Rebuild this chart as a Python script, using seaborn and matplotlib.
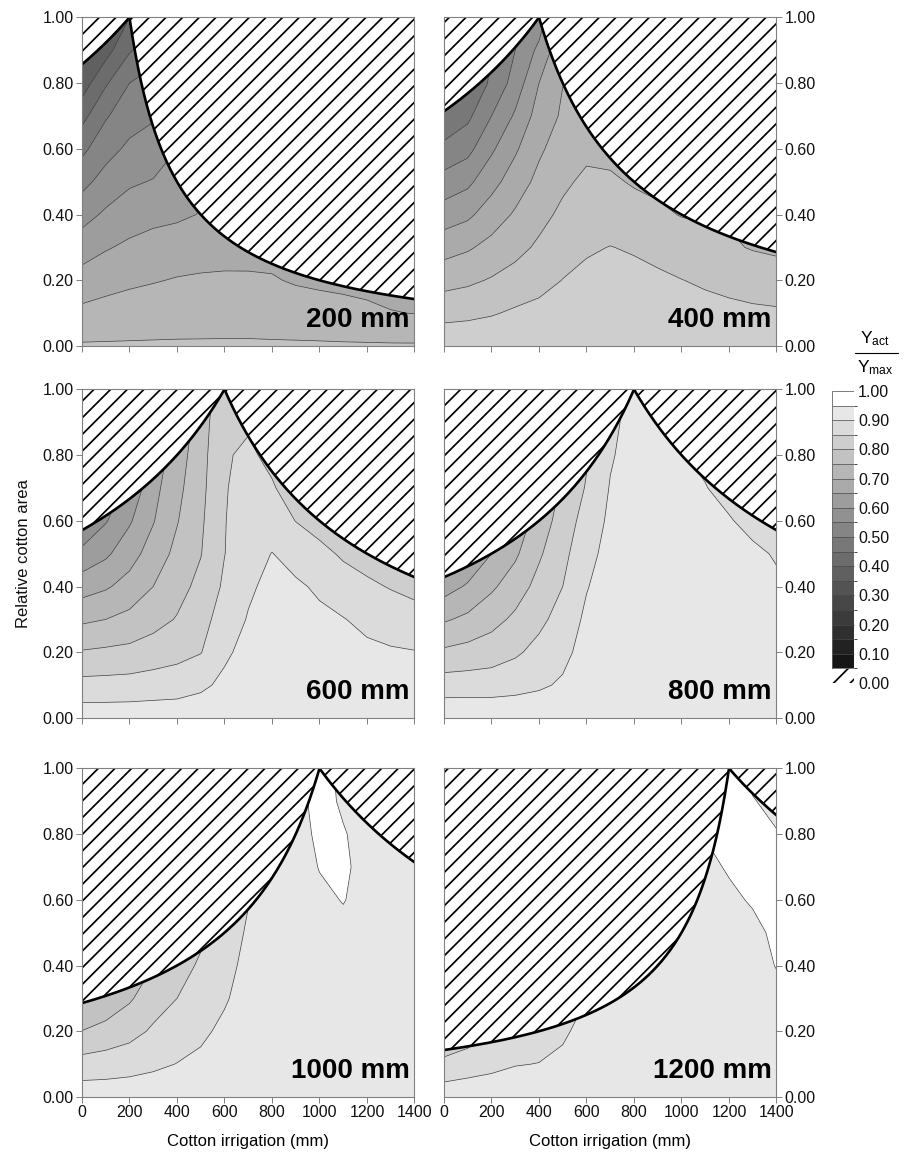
import numpy as np
import matplotlib
matplotlib.use("Agg")
import matplotlib.pyplot as plt
import seaborn as sns
from matplotlib import font_manager
from matplotlib.colors import ListedColormap, BoundaryNorm
from matplotlib.cm import ScalarMappable
from matplotlib.patches import Rectangle
from matplotlib.lines import Line2D

# grid of the contour maps
irrigation = [0, 100, 200, 300, 400, 500, 600, 700, 800, 900, 1000, 1100, 1200, 1300, 1400]
area = [0.0, 0.1, 0.2, 0.3, 0.4, 0.5, 0.6, 0.7, 0.8, 0.9, 1.0]
water = [200, 400, 600, 800, 1000, 1200]   # total water per panel (mm)
other_max = 1400                            # limit of the other crop (mm)

# relative yield, one row per area value
yield_200 = [
    [0.755] * 15,
    [0.712, 0.719, 0.724, 0.728, 0.731, 0.732, 0.733, 0.733, 0.730, 0.727, 0.723, 0.716, 0.710, 0.702, 0.699],
    [0.670, 0.682, 0.691, 0.697, 0.703, 0.706, 0.708, 0.707, 0.704, 0.695, 0.690, 0.688, 0.685, 0.683, 0.680],
    [0.627, 0.646, 0.659, 0.668, 0.674, 0.679, 0.680, 0.682, 0.684, 0.682, 0.680, 0.680, 0.680, 0.680, 0.680],
    [0.581, 0.608, 0.627, 0.637, 0.642, 0.652, 0.665, 0.675, 0.680, 0.680, 0.680, 0.680, 0.680, 0.680, 0.680],
    [0.535, 0.569, 0.593, 0.603, 0.620, 0.640, 0.655, 0.665, 0.670, 0.670, 0.670, 0.670, 0.670, 0.670, 0.670],
    [0.488, 0.532, 0.560, 0.571, 0.600, 0.630, 0.645, 0.655, 0.660, 0.660, 0.660, 0.660, 0.660, 0.660, 0.660],
    [0.434, 0.495, 0.529, 0.545, 0.580, 0.620, 0.635, 0.645, 0.650, 0.650, 0.650, 0.650, 0.650, 0.650, 0.650],
    [0.374, 0.444, 0.500, 0.520, 0.560, 0.610, 0.625, 0.635, 0.640, 0.640, 0.640, 0.640, 0.640, 0.640, 0.640],
    [0.330, 0.381, 0.445, 0.480, 0.540, 0.600, 0.615, 0.625, 0.630, 0.630, 0.630, 0.630, 0.630, 0.630, 0.630],
    [0.300, 0.350, 0.400, 0.440, 0.520, 0.590, 0.605, 0.615, 0.620, 0.620, 0.620, 0.620, 0.620, 0.620, 0.620],
]
yield_400 = [
    [0.84] * 15,
    [0.783, 0.788, 0.796, 0.807, 0.814, 0.820, 0.825, 0.827, 0.826, 0.824, 0.820, 0.817, 0.813, 0.809, 0.807],
    [0.733, 0.741, 0.754, 0.769, 0.784, 0.801, 0.810, 0.813, 0.812, 0.809, 0.801, 0.793, 0.785, 0.778, 0.772],
    [0.680, 0.694, 0.715, 0.735, 0.758, 0.780, 0.795, 0.801, 0.796, 0.785, 0.774, 0.765, 0.756, 0.747, 0.742],
    [0.624, 0.640, 0.675, 0.706, 0.735, 0.760, 0.777, 0.780, 0.771, 0.758, 0.748, 0.745, 0.745, 0.740, 0.740],
    [0.569, 0.589, 0.633, 0.675, 0.713, 0.741, 0.760, 0.758, 0.745, 0.740, 0.740, 0.740, 0.740, 0.740, 0.740],
    [0.514, 0.535, 0.592, 0.643, 0.692, 0.724, 0.739, 0.735, 0.735, 0.735, 0.735, 0.735, 0.735, 0.735, 0.735],
    [0.458, 0.489, 0.550, 0.607, 0.671, 0.707, 0.720, 0.730, 0.730, 0.730, 0.730, 0.730, 0.730, 0.730, 0.730],
    [0.420, 0.460, 0.508, 0.571, 0.650, 0.699, 0.710, 0.725, 0.730, 0.730, 0.730, 0.730, 0.730, 0.730, 0.730],
    [0.400, 0.450, 0.500, 0.550, 0.612, 0.690, 0.700, 0.720, 0.730, 0.730, 0.730, 0.730, 0.730, 0.730, 0.730],
    [0.380, 0.440, 0.490, 0.550, 0.570, 0.680, 0.690, 0.710, 0.730, 0.730, 0.730, 0.730, 0.730, 0.730, 0.730],
]
yield_600 = [
    [0.93] * 15,
    [0.866, 0.867, 0.869, 0.874, 0.878, 0.891, 0.910, 0.925, 0.928, 0.927, 0.925, 0.923, 0.922, 0.920, 0.918],
    [0.804, 0.809, 0.813, 0.823, 0.834, 0.848, 0.892, 0.915, 0.925, 0.922, 0.918, 0.913, 0.910, 0.905, 0.902],
    [0.741, 0.750, 0.764, 0.783, 0.803, 0.830, 0.875, 0.903, 0.920, 0.915, 0.908, 0.902, 0.888, 0.878, 0.870],
    [0.678, 0.694, 0.718, 0.750, 0.783, 0.813, 0.858, 0.893, 0.912, 0.906, 0.894, 0.873, 0.859, 0.847, 0.836],
    [0.614, 0.641, 0.680, 0.722, 0.763, 0.798, 0.849, 0.883, 0.901, 0.885, 0.864, 0.843, 0.830, 0.825, 0.820],
    [0.550, 0.596, 0.644, 0.697, 0.747, 0.792, 0.848, 0.875, 0.878, 0.849, 0.830, 0.830, 0.830, 0.825, 0.820],
    [0.500, 0.580, 0.610, 0.684, 0.736, 0.786, 0.847, 0.866, 0.854, 0.830, 0.830, 0.830, 0.830, 0.825, 0.820],
    [0.470, 0.550, 0.600, 0.670, 0.725, 0.781, 0.846, 0.857, 0.840, 0.830, 0.830, 0.830, 0.830, 0.825, 0.820],
    [0.450, 0.530, 0.590, 0.660, 0.710, 0.775, 0.842, 0.845, 0.835, 0.830, 0.830, 0.830, 0.830, 0.825, 0.820],
    [0.430, 0.510, 0.580, 0.650, 0.700, 0.770, 0.830, 0.835, 0.830, 0.830, 0.830, 0.830, 0.830, 0.825, 0.820],
]
yield_800 = [
    [0.94] * 15,
    [0.875, 0.876, 0.876, 0.882, 0.892, 0.907, 0.930, 0.938, 0.940, 0.940, 0.940, 0.940, 0.940, 0.938, 0.937],
    [0.809, 0.817, 0.827, 0.843, 0.864, 0.886, 0.920, 0.935, 0.940, 0.940, 0.940, 0.940, 0.937, 0.934, 0.932],
    [0.744, 0.761, 0.783, 0.810, 0.839, 0.868, 0.910, 0.930, 0.938, 0.940, 0.940, 0.937, 0.933, 0.928, 0.924],
    [0.679, 0.706, 0.742, 0.775, 0.816, 0.850, 0.897, 0.925, 0.935, 0.938, 0.937, 0.933, 0.926, 0.920, 0.913],
    [0.620, 0.657, 0.700, 0.742, 0.793, 0.837, 0.883, 0.918, 0.932, 0.935, 0.932, 0.926, 0.918, 0.915, 0.893],
    [0.570, 0.610, 0.660, 0.720, 0.770, 0.824, 0.869, 0.910, 0.928, 0.930, 0.925, 0.917, 0.906, 0.877, 0.870],
    [0.520, 0.560, 0.620, 0.700, 0.750, 0.810, 0.854, 0.903, 0.924, 0.925, 0.916, 0.903, 0.875, 0.870, 0.870],
    [0.480, 0.520, 0.580, 0.680, 0.740, 0.800, 0.845, 0.895, 0.920, 0.918, 0.905, 0.885, 0.870, 0.870, 0.870],
    [0.440, 0.480, 0.550, 0.660, 0.730, 0.790, 0.840, 0.888, 0.917, 0.910, 0.895, 0.880, 0.870, 0.870, 0.870],
    [0.400, 0.450, 0.520, 0.640, 0.720, 0.780, 0.840, 0.885, 0.915, 0.901, 0.890, 0.880, 0.870, 0.870, 0.870],
]
yield_1000 = [
    [0.93] * 15,
    [0.870, 0.874, 0.881, 0.891, 0.901, 0.910, 0.920, 0.930, 0.930, 0.930, 0.932, 0.932, 0.932, 0.932, 0.931],
    [0.801, 0.817, 0.833, 0.857, 0.876, 0.891, 0.910, 0.925, 0.930, 0.932, 0.934, 0.934, 0.934, 0.934, 0.932],
    [0.745, 0.764, 0.794, 0.828, 0.850, 0.874, 0.895, 0.920, 0.928, 0.933, 0.936, 0.937, 0.936, 0.935, 0.933],
    [0.700, 0.720, 0.760, 0.800, 0.830, 0.857, 0.885, 0.913, 0.927, 0.934, 0.938, 0.940, 0.938, 0.936, 0.934],
    [0.660, 0.690, 0.730, 0.780, 0.810, 0.840, 0.875, 0.906, 0.925, 0.935, 0.941, 0.944, 0.940, 0.937, 0.934],
    [0.630, 0.660, 0.700, 0.760, 0.800, 0.830, 0.865, 0.898, 0.920, 0.936, 0.945, 0.951, 0.942, 0.937, 0.933],
    [0.600, 0.630, 0.680, 0.740, 0.790, 0.820, 0.860, 0.890, 0.912, 0.938, 0.951, 0.954, 0.942, 0.936, 0.932],
    [0.580, 0.610, 0.660, 0.720, 0.780, 0.810, 0.855, 0.885, 0.905, 0.940, 0.955, 0.952, 0.940, 0.934, 0.930],
    [0.560, 0.590, 0.640, 0.710, 0.770, 0.800, 0.850, 0.880, 0.901, 0.940, 0.960, 0.946, 0.935, 0.932, 0.930],
    [0.550, 0.580, 0.630, 0.700, 0.760, 0.800, 0.850, 0.880, 0.901, 0.940, 0.965, 0.940, 0.930, 0.930, 0.930],
]
yield_1200 = [
    [0.93] * 15,
    [0.864, 0.878, 0.888, 0.898, 0.901, 0.910, 0.925, 0.928, 0.930, 0.931, 0.931, 0.932, 0.932, 0.932, 0.933],
    [0.800, 0.820, 0.850, 0.865, 0.880, 0.893, 0.915, 0.922, 0.927, 0.930, 0.932, 0.934, 0.934, 0.934, 0.937],
    [0.780, 0.800, 0.830, 0.850, 0.870, 0.885, 0.900, 0.910, 0.922, 0.928, 0.932, 0.936, 0.936, 0.937, 0.943],
    [0.760, 0.780, 0.810, 0.840, 0.860, 0.880, 0.895, 0.905, 0.915, 0.925, 0.932, 0.937, 0.939, 0.940, 0.951],
    [0.750, 0.770, 0.800, 0.830, 0.855, 0.875, 0.890, 0.900, 0.910, 0.920, 0.932, 0.938, 0.942, 0.945, 0.954],
    [0.750, 0.770, 0.800, 0.830, 0.850, 0.870, 0.890, 0.900, 0.910, 0.920, 0.930, 0.940, 0.946, 0.952, 0.956],
    [0.750, 0.770, 0.800, 0.830, 0.850, 0.870, 0.890, 0.900, 0.910, 0.920, 0.930, 0.945, 0.952, 0.956, 0.955],
    [0.750, 0.770, 0.800, 0.830, 0.850, 0.870, 0.890, 0.900, 0.910, 0.920, 0.930, 0.951, 0.956, 0.956, 0.951],
    [0.750, 0.770, 0.800, 0.830, 0.850, 0.870, 0.890, 0.900, 0.910, 0.920, 0.930, 0.955, 0.960, 0.951, 0.945],
    [0.750, 0.770, 0.800, 0.830, 0.850, 0.870, 0.890, 0.900, 0.910, 0.920, 0.930, 0.960, 0.962, 0.945, 0.940],
]
panels = [yield_200, yield_400, yield_600, yield_800, yield_1000, yield_1200]

sns.set_style("ticks")
installed = {f.name for f in font_manager.fontManager.ttflist}
NARROW = "Liberation Sans Narrow" if "Liberation Sans Narrow" in installed else "Liberation Sans"
plt.rcParams["font.family"] = ["Liberation Sans", "DejaVu Sans"]
plt.rcParams["hatch.linewidth"] = 1.25
plt.rcParams["hatch.color"] = "black"
plt.rcParams["text.color"] = "black"
plt.rcParams["axes.labelcolor"] = "black"

levels = np.round(np.arange(0, 1.0001, 0.05), 2)
greys = sns.blend_palette(["#161616", "#e7e7e7"], n_colors=18)
band_colors = ["white"] + list(greys) + ["white"]
cmap = ListedColormap(band_colors)
norm = BoundaryNorm(levels, cmap.N)

fig = plt.figure(figsize=(9.05, 11.53), dpi=100)
lefts = [0.0906, 0.4906]
bottoms = [0.6999, 0.3773, 0.0486]
pw, ph = 0.3674, 0.2850
grey_axis = "#808080"


def draw_limits(ax, w):
    # other crop over-supplied (left) and cotton short of water (right)
    xl = np.linspace(0, w, 200)
    yl = (other_max - w) / (other_max - xl)
    xr = np.linspace(w, other_max, 300)
    yr = w / xr
    for xs, ys in ((xl, yl), (xr, yr)):
        ax.fill_between(xs, ys, 1.0, facecolor="white", edgecolor="black",
                        hatch="//", linewidth=0, zorder=3)
        ax.plot(xs, ys, color="black", lw=1.9, zorder=4)


for i, (w, z) in enumerate(zip(water, panels)):
    r, c = divmod(i, 2)
    ax = fig.add_axes([lefts[c], bottoms[r], pw, ph])
    z = np.array(z)
    ax.contourf(irrigation, area, z, levels=levels, colors=band_colors, zorder=1)
    ax.contour(irrigation, area, z, levels=levels[1:-1], colors="#3c3c3c",
               linewidths=0.5, zorder=2)
    draw_limits(ax, w)
    ax.set_xlim(0, 1400)
    ax.set_ylim(0, 1)
    ax.set_xticks(range(0, 1401, 200))
    ax.set_yticks(np.arange(0, 1.01, 0.2))
    ax.set_yticklabels([f"{v:.2f}" for v in np.arange(0, 1.01, 0.2)])
    if r == 2:
        ax.set_xticklabels([str(v) for v in range(0, 1401, 200)],
                           fontfamily=NARROW, fontsize=11.5)
        ax.set_xlabel("Cotton irrigation (mm)", fontfamily=NARROW,
                      fontsize=12, labelpad=10)
    else:
        ax.set_xticklabels([])
    if c == 1:
        ax.yaxis.tick_right()
    ax.tick_params(axis="both", labelsize=11.5, length=4, width=0.7,
                   color=grey_axis, labelcolor="#111111", pad=2)
    for sp in ax.spines.values():
        sp.set_color(grey_axis)
        sp.set_linewidth(0.8)
        sp.set_zorder(5)
    ax.text(1379, 0.04, f"{w} mm", ha="right", va="bottom",
            fontsize=20, fontweight="bold", color="black", zorder=6)

fig.text(0.0265, 0.5195, "Relative cotton area", rotation=90,
         ha="center", va="center", fontsize=12, color="#111111")

# colour key
cax = fig.add_axes([0.9193, 0.4076, 0.0243, 0.2533])
sm = ScalarMappable(norm=norm, cmap=cmap)
cb = fig.colorbar(sm, cax=cax, ticks=levels[::2], drawedges=True)
cb.ax.set_yticklabels([f"{v:.2f}" for v in levels[::2]])
cb.ax.tick_params(length=0, labelsize=11.5, pad=3, labelcolor="#111111")
cb.outline.set_visible(False)
cb.dividers.set_color("#4a4a4a")
cb.dividers.set_linewidth(0.5)
cax.add_patch(Rectangle((0, 0), 1, 0.05, facecolor="white", edgecolor="black",
                        hatch="//", lw=0, zorder=5))
cax.add_patch(Rectangle((0, 0.05), 1, 0.95, fill=False, edgecolor="#666666",
                        lw=0.6, zorder=6))

fig.text(0.967, 0.698, r"$\mathregular{Y_{act}}$", ha="center", va="bottom", fontsize=12.5)
fig.add_artist(Line2D([0.945, 0.992], [0.6935, 0.6935], color="black", lw=0.8))
fig.text(0.967, 0.689, r"$\mathregular{Y_{max}}$", ha="center", va="top", fontsize=12.5)

fig.savefig("out.png", dpi=100, facecolor="white")
